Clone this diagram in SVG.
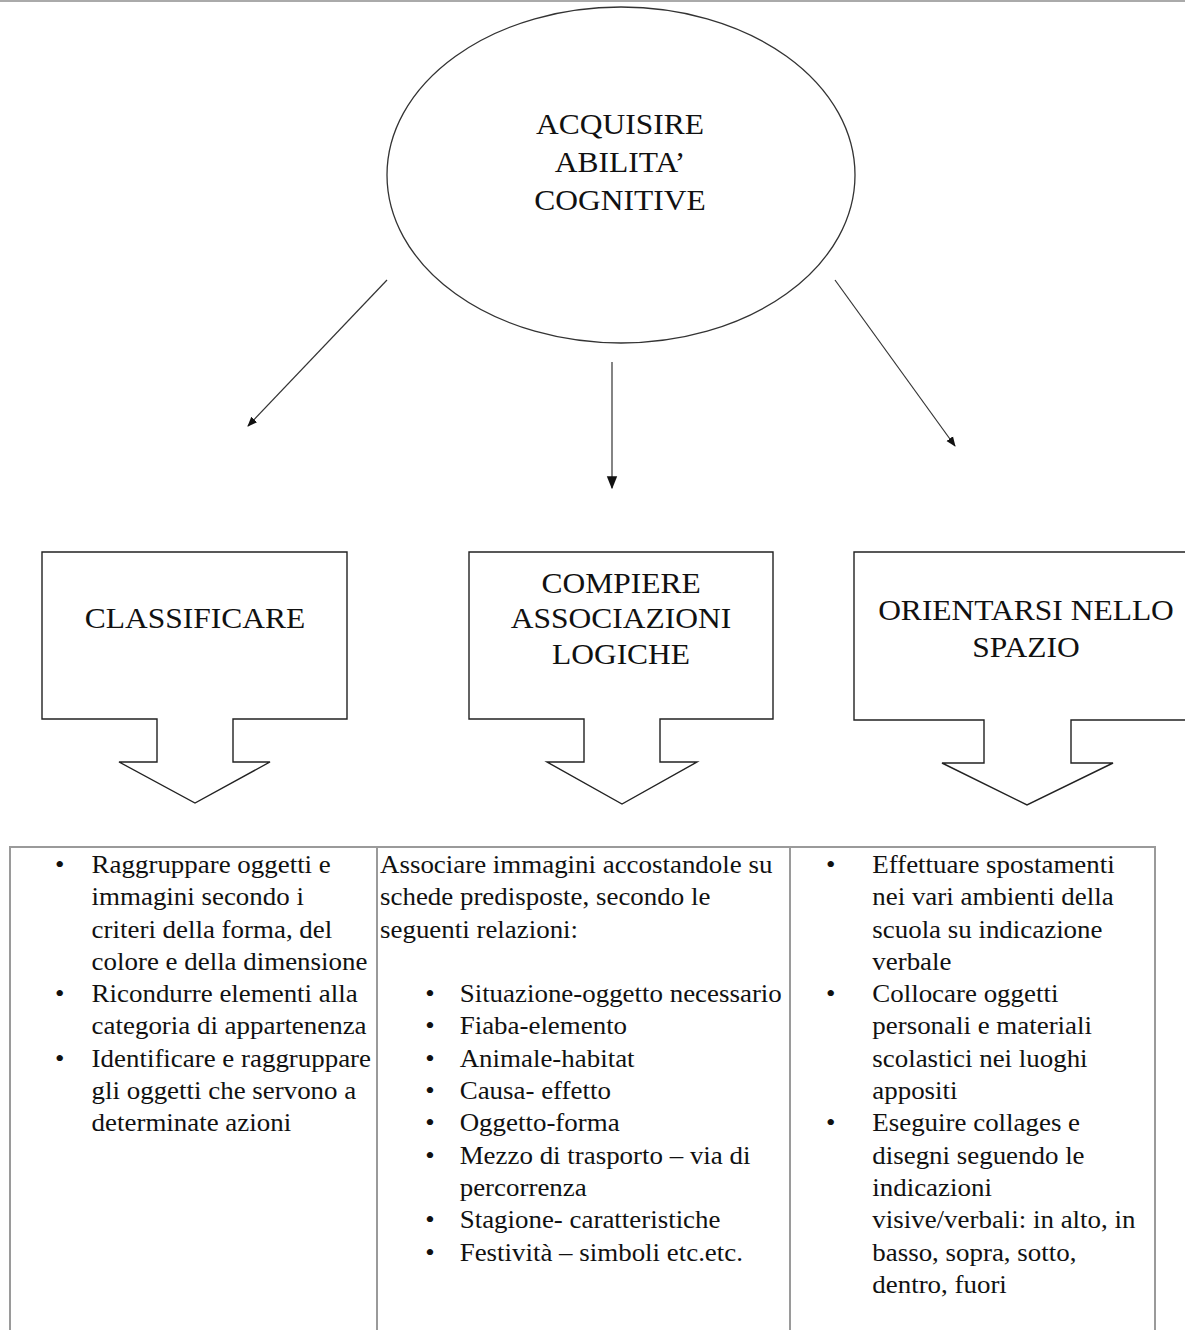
<svg xmlns="http://www.w3.org/2000/svg" width="1185" height="1330" viewBox="0 0 1185 1330">
<style>
text{font-family:'Liberation Serif','Times New Roman',Tinos,'DejaVu Serif',serif}
.h{font-size:30px;fill:#111;text-anchor:middle}
.b{font-size:25px;fill:#111}
.shape{fill:#fff;stroke:#222;stroke-width:1.4}
.conn{stroke:#333;stroke-width:1.2;fill:none}
.grid{stroke:#9a9a9a;stroke-width:2;fill:none}
</style>
<defs>
<marker id="ah" viewBox="0 0 10 10" refX="9" refY="5" markerWidth="10" markerHeight="10" markerUnits="userSpaceOnUse" orient="auto">
<path d="M0,1 L10,5 L0,9 Z" fill="#111"/>
</marker>
<marker id="ah2" viewBox="0 0 10 10" refX="9" refY="5" markerWidth="13" markerHeight="13" markerUnits="userSpaceOnUse" orient="auto">
<path d="M0,1 L10,5 L0,9 Z" fill="#111"/>
</marker>
</defs>
<rect x="0" y="0" width="1185" height="1330" fill="#fff"/>
<line x1="0" y1="1" x2="1185" y2="1" stroke="#aaa" stroke-width="2"/>

<g id="main">
<ellipse cx="621" cy="175" rx="234" ry="168" fill="#fff" stroke="#333" stroke-width="1.3"/>
<g transform="translate(620,0) scale(1.05,1)" font-family="Liberation Serif, serif">
<text class="h" x="0" y="134" font-family="Liberation Serif, serif">ACQUISIRE</text>
<text class="h" x="0" y="172" font-family="Liberation Serif, serif">ABILITA’</text>
<text class="h" x="0" y="210" font-family="Liberation Serif, serif">COGNITIVE</text>
</g>
</g>

<g id="connectors">
<line class="conn" x1="387" y1="280" x2="248" y2="426" marker-end="url(#ah)"/>
<line class="conn" x1="612" y1="362" x2="612" y2="488" stroke-width="1.6" marker-end="url(#ah2)"/>
<line class="conn" x1="835" y1="280" x2="955" y2="446" marker-end="url(#ah)"/>
</g>

<g id="classificare">
<path class="shape" d="M42,552 H347 V719 H233 V762 H270 L195,803 L119,762 H157 V719 H42 Z"/>
<g transform="translate(195,0) scale(1.05,1)"><text class="h" x="0" y="628">CLASSIFICARE</text></g>
</g>

<g id="compiere">
<path class="shape" d="M469,552 H773 V719 H660 V762 H697 L622,804 L547,762 H584 V719 H469 Z"/>
<g transform="translate(621,0) scale(1.05,1)">
<text class="h" x="0" y="593">COMPIERE</text>
<text class="h" x="0" y="628">ASSOCIAZIONI</text>
<text class="h" x="0" y="664">LOGICHE</text>
</g>
</g>

<g id="orientarsi">
<path class="shape" d="M854,552 H1186 V720 H1071 V763 H1113 L1027,805 L942,763 H984 V720 H854 Z"/>
<g transform="translate(1026,0) scale(1.05,1)">
<text class="h" x="0" y="620">ORIENTARSI NELLO</text>
<text class="h" x="0" y="657">SPAZIO</text>
</g>
</g>

<g id="table">
<rect class="grid" x="10" y="847" width="1145" height="500"/>
<line class="grid" x1="377" y1="847" x2="377" y2="1330"/>
<line class="grid" x1="790" y1="847" x2="790" y2="1330"/>
</g>

<g id="col1" transform="translate(55,0) scale(1.077,1)">
<text class="b" x="0" y="873">•</text>
<text class="b" x="0" y="1002.2">•</text>
<text class="b" x="0" y="1066.8">•</text>
<text class="b" x="34" y="873">Raggruppare oggetti e</text>
<text class="b" x="34" y="905.3">immagini secondo i</text>
<text class="b" x="34" y="937.6">criteri della forma, del</text>
<text class="b" x="34" y="969.9">colore e della dimensione</text>
<text class="b" x="34" y="1002.2">Ricondurre elementi alla</text>
<text class="b" x="34" y="1034.5">categoria di appartenenza</text>
<text class="b" x="34" y="1066.8">Identificare e raggruppare</text>
<text class="b" x="34" y="1099.1">gli oggetti che servono a</text>
<text class="b" x="34" y="1131.4">determinate azioni</text>
</g>

<g id="col2" transform="translate(380,0) scale(1.077,1)">
<text class="b" x="0" y="873">Associare immagini accostandole su</text>
<text class="b" x="0" y="905.3">schede predisposte, secondo le</text>
<text class="b" x="0" y="937.6">seguenti relazioni:</text>
<text class="b" x="42" y="1002.2">•</text>
<text class="b" x="42" y="1034.5">•</text>
<text class="b" x="42" y="1066.8">•</text>
<text class="b" x="42" y="1099.1">•</text>
<text class="b" x="42" y="1131.4">•</text>
<text class="b" x="42" y="1163.7">•</text>
<text class="b" x="42" y="1228.3">•</text>
<text class="b" x="42" y="1260.6">•</text>
<text class="b" x="74" y="1002.2">Situazione-oggetto necessario</text>
<text class="b" x="74" y="1034.5">Fiaba-elemento</text>
<text class="b" x="74" y="1066.8">Animale-habitat</text>
<text class="b" x="74" y="1099.1">Causa- effetto</text>
<text class="b" x="74" y="1131.4">Oggetto-forma</text>
<text class="b" x="74" y="1163.7">Mezzo di trasporto – via di</text>
<text class="b" x="74" y="1196">percorrenza</text>
<text class="b" x="74" y="1228.3">Stagione- caratteristiche</text>
<text class="b" x="74" y="1260.6">Festività – simboli etc.etc.</text>
</g>

<g id="col3" transform="translate(826,0) scale(1.077,1)">
<text class="b" x="0" y="873">•</text>
<text class="b" x="0" y="1002.2">•</text>
<text class="b" x="0" y="1131.4">•</text>
<text class="b" x="43" y="873">Effettuare spostamenti</text>
<text class="b" x="43" y="905.3">nei vari ambienti della</text>
<text class="b" x="43" y="937.6">scuola su indicazione</text>
<text class="b" x="43" y="969.9">verbale</text>
<text class="b" x="43" y="1002.2">Collocare oggetti</text>
<text class="b" x="43" y="1034.5">personali e materiali</text>
<text class="b" x="43" y="1066.8">scolastici nei luoghi</text>
<text class="b" x="43" y="1099.1">appositi</text>
<text class="b" x="43" y="1131.4">Eseguire collages e</text>
<text class="b" x="43" y="1163.7">disegni seguendo le</text>
<text class="b" x="43" y="1196">indicazioni</text>
<text class="b" x="43" y="1228.3">visive/verbali: in alto, in</text>
<text class="b" x="43" y="1260.6">basso, sopra, sotto,</text>
<text class="b" x="43" y="1292.9">dentro, fuori</text>
</g>
</svg>
